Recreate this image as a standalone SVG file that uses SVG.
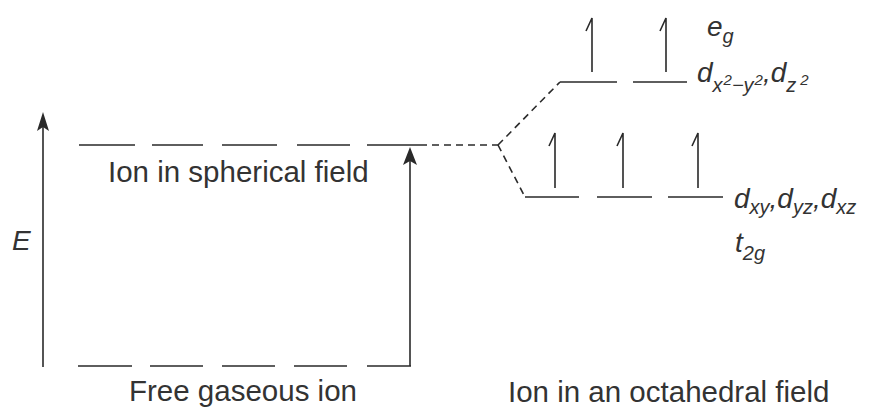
<svg xmlns="http://www.w3.org/2000/svg" width="869" height="409" viewBox="0 0 869 409">
<style>
.ln{stroke:#2a2a2a;stroke-width:1.6;fill:none}
.dsh{stroke:#2a2a2a;stroke-width:1.6;fill:none;stroke-dasharray:7 5}
.head{fill:#2a2a2a;stroke:none}
.cap{font-family:"Liberation Sans",Arial,sans-serif;font-size:29.5px;fill:#333}
.lab{font-family:"Liberation Sans",Arial,sans-serif;font-style:italic;font-size:28px;fill:#333}
.sub{font-size:20px}
.sup{font-size:15px}
</style>
<rect width="869" height="409" fill="#fff"/>
<g id="energy-axis">
<path class="ln" d="M43,367 V124"/>
<path class="head" d="M43,112 L49,131 L43,127 L37,131 Z"/>
<text class="lab" x="12" y="250">E</text>
</g>
<g id="free-ion">
<path class="ln" d="M78,366 H132 M150,366 H203 M222,366 H275 M294,366 H347 M367,366 H411"/>
<text class="cap" x="129" y="401">Free gaseous ion</text>
</g>
<g id="spherical-field">
<path class="ln" d="M79,145 H135 M152,145 H203 M222,145 H277 M297,145 H350 M367,145 H420"/>
<text class="cap" x="108" y="182">Ion in spherical field</text>
</g>
<g id="excitation-arrow">
<path class="ln" d="M410,366 V158"/>
<path class="head" d="M410,147 L417,165 L410,161 L403,165 Z"/>
</g>
<g id="eg-level">
<path class="ln" d="M560,82 H617 M633,82 H687"/>
<path class="ln" d="M592,72 V18 L586,31 M666,72 V18 L660,31"/>
<text class="lab" x="707" y="36">e<tspan class="sub" dy="7">g</tspan></text>
<text class="lab" x="697" y="82">d<tspan class="sub" dy="10">x</tspan><tspan class="sup" dx="1" dy="-7">2</tspan><tspan class="sub" dy="7">−y</tspan><tspan class="sup" dx="1" dy="-7">2</tspan><tspan dy="-3">,d</tspan><tspan class="sub" dy="10">z</tspan><tspan class="sup" dx="4" dy="-7">2</tspan></text>
</g>
<g id="t2g-level">
<path class="ln" d="M525,197 H579 M597,197 H652 M668,197 H723"/>
<path class="ln" d="M555,188 V133 L549,146 M623,188 V133 L617,146 M698,188 V133 L692,146"/>
<text class="lab" x="734" y="208">d<tspan class="sub" dy="6">xy</tspan><tspan dy="-6">,d</tspan><tspan class="sub" dy="6">yz</tspan><tspan dy="-6">,d</tspan><tspan class="sub" dy="6">xz</tspan></text>
<text class="lab" x="735" y="252">t<tspan class="sub" dy="8">2g</tspan></text>
</g>
<text class="cap" x="508" y="402">Ion in an octahedral field</text>
<g id="connectors">
<path class="dsh" d="M420,145 H498"/>
<path class="dsh" d="M498,145 L560,82"/>
<path class="dsh" d="M498,145 L525,197"/>
</g>
</svg>
